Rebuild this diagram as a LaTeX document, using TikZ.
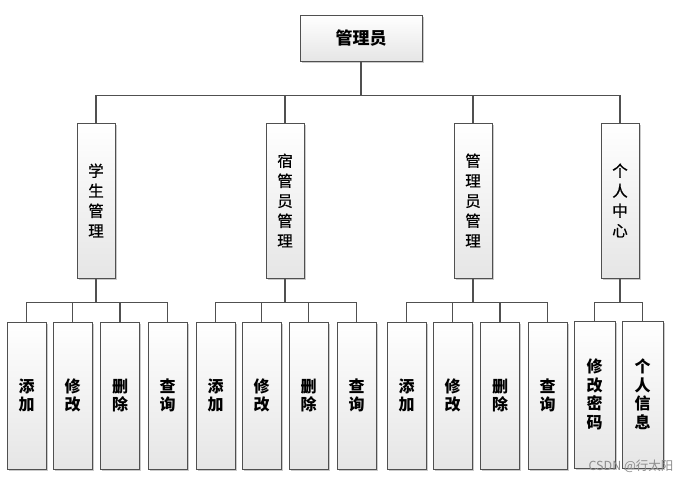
\documentclass[tikz,border=0pt]{standalone}
\usepackage{fontspec}
\newfontfamily\cjk{Noto Sans CJK SC}
\newfontfamily\cjkm[FakeBold=0.7]{Noto Sans CJK SC}
\usetikzlibrary{shadows}
\definecolor{edge}{HTML}{505050}
\tikzset{
  box/.style={draw=edge, line width=0.9pt, top color=white, bottom color=black!10,
    drop shadow={shadow xshift=1.6pt, shadow yshift=-1.6pt, fill=black!35, opacity=0.6},
    inner sep=0pt, align=center},
  topbox/.style={box, minimum width=122pt, minimum height=46pt, font=\cjk\bfseries\fontsize{17}{20}\selectfont},
  midbox/.style={box, minimum width=38pt, minimum height=155pt, font=\cjkm\fontsize{15.5}{20}\selectfont},
  leafbox/.style={box, minimum width=39pt, minimum height=147pt, font=\cjk\bfseries\fontsize{16}{18.5}\selectfont},
  conn/.style={draw=edge, line width=1.1pt},
}
\begin{document}
\begin{tikzpicture}[x=1pt,y=-1pt]
\useasboundingbox (0,0) rectangle (698,483);
\node[topbox] (top) at (361,38) {管理员};
\node[midbox] (m1) at (96,200.5) {学\\生\\管\\理};
\node[midbox] (m2) at (285,200.5) {宿\\管\\员\\管\\理};
\node[midbox] (m3) at (473,200.5) {管\\理\\员\\管\\理};
\node[midbox] (m4) at (620,200.5) {个\\人\\中\\心};
% leaves
\node[leafbox] (a1) at (26.5,395.5) {添\\加};
\node[leafbox] (a2) at (72.5,395.5) {修\\改};
\node[leafbox] (a3) at (120,395.5) {删\\除};
\node[leafbox] (a4) at (167.5,395.5) {查\\询};
\node[leafbox] (b1) at (215.5,395.5) {添\\加};
\node[leafbox] (b2) at (261.5,395.5) {修\\改};
\node[leafbox] (b3) at (308.5,395.5) {删\\除};
\node[leafbox] (b4) at (356.5,395.5) {查\\询};
\node[leafbox] (c1) at (406.5,395.5) {添\\加};
\node[leafbox] (c2) at (452.5,395.5) {修\\改};
\node[leafbox] (c3) at (500,395.5) {删\\除};
\node[leafbox] (c4) at (547.5,395.5) {查\\询};
\node[leafbox, minimum width=41pt] (d1) at (594.5,394.5) {修\\改\\密\\码};
\node[leafbox, minimum width=41pt] (d2) at (642.5,394.5) {个\\人\\信\\息};
% connectors
\foreach \m in {m1,m2,m3,m4} \draw[conn] (top.south) -- ++(0,34) -| (\m.north);
\foreach \l in {a1,a2,a3,a4} \draw[conn] (m1.south) -- ++(0,24) -| (\l.north);
\foreach \l in {b1,b2,b3,b4} \draw[conn] (m2.south) -- ++(0,24) -| (\l.north);
\foreach \l in {c1,c2,c3,c4} \draw[conn] (m3.south) -- ++(0,24) -| (\l.north);
\foreach \l in {d1,d2} \draw[conn] (m4.south) -- ++(0,24) -| (\l.north);
\node[font=\cjk\fontsize{12.5}{14}\selectfont, text=black!45, inner sep=0pt] (wm) at (631,466) {CSDN @行太阳};
\end{tikzpicture}
\end{document}
